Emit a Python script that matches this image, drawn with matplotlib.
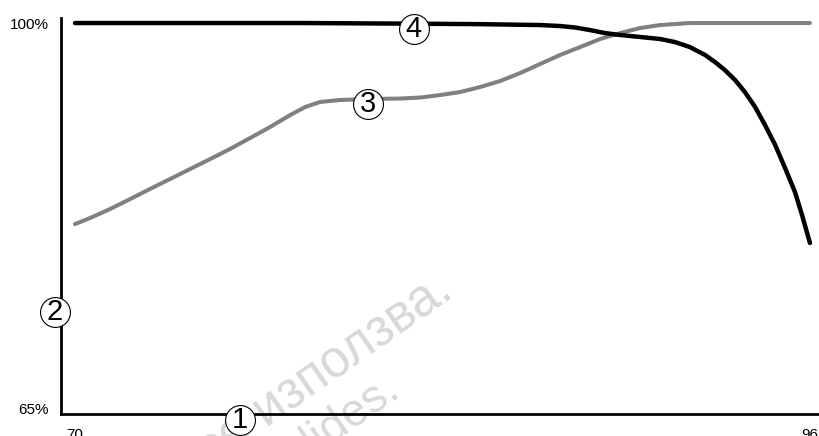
import matplotlib
matplotlib.use("Agg")
import matplotlib.pyplot as plt
import matplotlib.transforms as mtransforms

plt.rcParams['font.family'] = ['Liberation Sans', 'DejaVu Sans']

# Data
black_x = [70.0, 74.4, 78.0, 81.5, 84.3, 86.45, 87.16, 87.69, 88.22, 88.75, 89.28,
           89.99, 90.70, 91.22, 91.75, 92.29, 92.64, 92.99, 93.35, 93.70, 94.06,
           94.41, 94.77, 95.12, 95.47, 95.72, 96.0]
black_y = [100.0, 100.0, 100.0, 99.95, 99.9, 99.82, 99.73, 99.60, 99.37, 99.10, 98.93,
           98.75, 98.57, 98.30, 97.85, 97.14, 96.51, 95.79, 94.90, 93.82, 92.48,
           90.87, 89.08, 87.02, 84.87, 82.81, 80.31]

gray_x = [70.0, 70.53, 71.24, 71.95, 72.65, 73.36, 74.07, 74.78, 75.48, 76.19,
          76.90, 77.61, 78.14, 78.67, 79.37, 80.44, 81.50, 82.21, 82.91, 83.62,
          84.33, 85.04, 85.75, 86.45, 87.16, 87.87, 88.58, 89.28, 89.99, 90.70,
          91.75, 92.82, 96.0]
gray_y = [82.0, 82.54, 83.35, 84.24, 85.14, 86.03, 86.93, 87.82, 88.72, 89.70,
          90.69, 91.76, 92.48, 92.93, 93.11, 93.20, 93.24, 93.33, 93.55, 93.82,
          94.27, 94.81, 95.52, 96.33, 97.14, 97.85, 98.57, 99.10, 99.55, 99.82,
          100.0, 100.0, 100.0]

x_ticks = [70, 96]
x_tick_labels = ["70", "96"]
y_ticks = [65, 100]
y_tick_labels = ["65%", "100%"]

markers = ["1", "2", "3", "4"]
marker_x = [75.84, 69.29, 80.36, 81.99]
marker_y = [64.46, 74.13, 92.75, 99.46]

fig = plt.figure(figsize=(8.19, 4.36), dpi=100)
ax = fig.add_axes([61 / 819, 22 / 436, (819 - 61) / 819, (414 - 18) / 436])
ax.set_xlim(69.505, 96.32)
ax.set_ylim(65, 100.45)

# watermark
ax.text(456, 436 - 296, "се използва.", transform=None, rotation=35,
        rotation_mode='anchor', ha='right', va='baseline', fontsize=37,
        color='#d8d8d8', zorder=0)
ax.text(402, 436 - 394, "slides.", transform=None, rotation=35,
        rotation_mode='anchor', ha='right', va='baseline', fontsize=33,
        color='#d8d8d8', zorder=0)

ax.plot(gray_x, gray_y, color='#808080', lw=2.9, solid_capstyle='round',
        solid_joinstyle='round', zorder=3)
ax.plot(black_x, black_y, color='black', lw=3.2, solid_capstyle='round',
        solid_joinstyle='round', zorder=4)

for s in ['top', 'right']:
    ax.spines[s].set_visible(False)
for s in ['left', 'bottom']:
    ax.spines[s].set_linewidth(2.0)

ax.set_xticks(x_ticks)
ax.set_xticklabels(x_tick_labels, fontsize=11)
ax.set_yticks(y_ticks)
ax.set_yticklabels(y_tick_labels, fontsize=11)
ax.tick_params(axis='both', length=0)
ax.tick_params(axis='x', pad=10)
ax.tick_params(axis='y', pad=9)

# nudge the 65% label up a bit as in the reference
lbl65 = ax.get_yticklabels()[0]
lbl65.set_transform(lbl65.get_transform() +
                    mtransforms.ScaledTranslation(0, 6 / 100, fig.dpi_scale_trans))

for lbl, mx, my in zip(markers, marker_x, marker_y):
    ax.plot([mx], [my], marker='o', markersize=21.5, markerfacecolor='white',
            markeredgecolor='black', markeredgewidth=0.8, clip_on=False, zorder=6)
    ax.text(mx, my, lbl, ha='center', va='center', fontsize=21, color='black',
            zorder=7, clip_on=False)

fig.savefig("out.png", dpi=100)
